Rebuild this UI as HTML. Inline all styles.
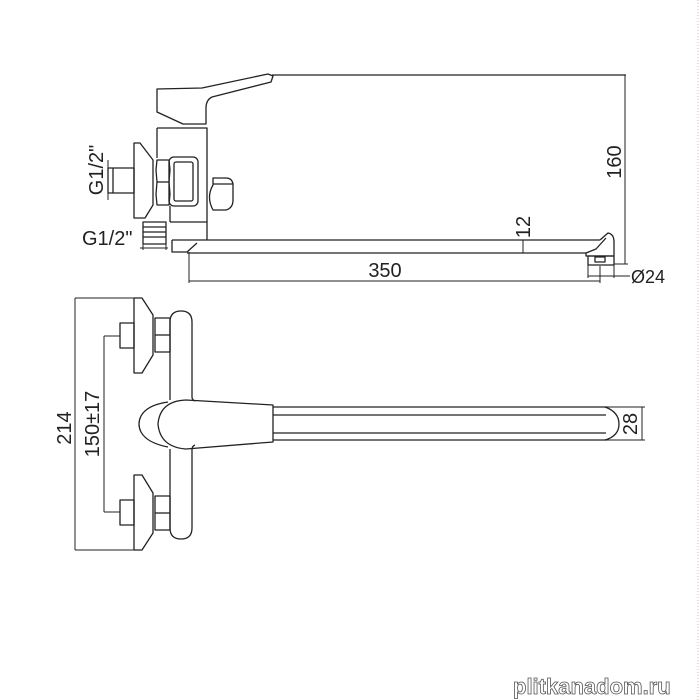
<!DOCTYPE html>
<html><head><meta charset="utf-8"><style>
html,body{margin:0;padding:0;background:#fff}
svg{display:block}
text{font-family:"Liberation Sans","DejaVu Sans",sans-serif;fill:#222}
</style></head><body>
<svg width="700" height="700" viewBox="0 0 700 700" xmlns="http://www.w3.org/2000/svg">
<g fill="none" stroke="#222" stroke-width="1.3" stroke-linejoin="round">
<!-- TOP VIEW -->
<path d="M157,89 L202,88 L268,74 L273,76 L271,82 L212,97 Q206,100 206,108 L206,124 L183,124 L157,112 Z"/>
<line x1="272" y1="75" x2="626" y2="75"/>
<path d="M157,128 L207,128 L207,222"/>
<line x1="157" y1="128" x2="157" y2="158"/>
<path d="M170,222 L207,222 L207,240"/>
<line x1="170" y1="206" x2="170" y2="222"/>
<rect x="169" y="157" width="29" height="49" rx="5"/>
<rect x="174" y="162" width="19" height="39" rx="2"/>
<path d="M157,160 L169,160 L170,170 L169,182 L170,194 L169,205 L157,205 L156,194 L157,182 L156,170 Z"/>
<line x1="157" y1="182" x2="169" y2="182"/>
<path d="M134,143 L140,143 L153,160 L153,205 L145,218 L134,218 Z"/>
<rect x="108" y="168" width="26" height="25"/>
<line x1="113" y1="168" x2="113" y2="193"/>
<rect x="143" y="222" width="23" height="22"/>
<line x1="143" y1="227" x2="166" y2="227"/>
<line x1="143" y1="232" x2="166" y2="232"/>
<line x1="143" y1="237" x2="166" y2="237"/>
<path d="M213,185 Q206,197 213,210 L226,210 Q233,208 233,200 L233,184 Q232,178 226,178 L213,178 Z"/>
<line x1="213" y1="184" x2="233" y2="184"/>
<!-- spout -->
<path d="M172,240 L172,252 L187,252 L197,243"/>
<line x1="172" y1="240" x2="600" y2="240"/>
<line x1="187" y1="253" x2="586" y2="253"/>
<path d="M600,240 L608,233 Q614,234 614,242 L614,256 L586,256 L586,253 L596,249 L606,238"/>
<rect x="588" y="256" width="26" height="9"/>
<rect x="595" y="257" width="10" height="5"/>
<!-- dims -->
<line x1="189" y1="252" x2="189" y2="283" stroke-width="1"/>
<line x1="189" y1="281" x2="600" y2="281" stroke-width="1"/>
<line x1="600" y1="266" x2="600" y2="283" stroke-width="1"/>
<line x1="625" y1="75" x2="625" y2="264" stroke-width="1"/>
<line x1="614" y1="264" x2="628" y2="264" stroke-width="1"/>
<line x1="523" y1="240" x2="523" y2="253" stroke-width="1"/>
<line x1="588" y1="265" x2="588" y2="278" stroke-width="1"/>
<line x1="614" y1="265" x2="614" y2="278" stroke-width="1"/>
<line x1="588" y1="276" x2="630" y2="276" stroke-width="1"/>
<line x1="108" y1="160" x2="108" y2="200" stroke-width="1"/>
<line x1="143" y1="244" x2="143" y2="250" stroke-width="1"/>
<line x1="166" y1="244" x2="166" y2="250" stroke-width="1"/>
<line x1="140" y1="248" x2="168" y2="248" stroke-width="1"/>

<!-- BOTTOM VIEW -->
<line x1="75" y1="298" x2="75" y2="550" stroke-width="1"/>
<line x1="75" y1="298" x2="135" y2="298" stroke-width="1"/>
<line x1="75" y1="550" x2="135" y2="550" stroke-width="1"/>
<line x1="104" y1="336" x2="104" y2="512" stroke-width="1"/>
<line x1="104" y1="336" x2="120" y2="336" stroke-width="1"/>
<line x1="104" y1="512" x2="120" y2="512" stroke-width="1"/>
<path d="M134,298 L142,298 L153,315 L153,355 L142,373 L134,373 Z"/>
<rect x="120" y="323" width="14" height="25"/>
<path d="M155,318 L170,318 L170,352 L155,352 Z"/>
<line x1="155" y1="335" x2="170" y2="335"/>
<path d="M134,475 L142,475 L153,493 L153,533 L142,550 L134,550 Z"/>
<rect x="120" y="500" width="14" height="25"/>
<path d="M155,496 L170,496 L170,530 L155,530 Z"/>
<line x1="155" y1="513" x2="170" y2="513"/>
<path d="M170,400 L170,322 Q170,311 181,311 Q192,311 192,322 L192,397 Q192,400 195,401"/>
<path d="M170,449 L170,528 Q170,539 181,539 Q192,539 192,528 L192,450 Q192,446 195,445"/>
<path d="M168,402 Q147,405 141,416 Q137,424 141,432 Q147,443 168,447"/>
<path d="M186,400 L273,405 L273,442 L186,449 Q160,447 158,424 Q160,401 186,400 Z"/>
<line x1="273" y1="407" x2="607" y2="407"/>
<line x1="273" y1="440" x2="607" y2="440"/>
<line x1="273" y1="415" x2="606" y2="415"/>
<line x1="273" y1="433" x2="606" y2="433"/>
<path d="M605,407 Q619,412 619,424 Q619,436 605,440"/>
<line x1="607" y1="407" x2="645" y2="407" stroke-width="1"/>
<line x1="607" y1="440" x2="645" y2="440" stroke-width="1"/>
<line x1="642" y1="407" x2="642" y2="440" stroke-width="1"/>
</g>
<line x1="698" y1="0" x2="698" y2="700" stroke="#e8b8b8" stroke-width="1" stroke-dasharray="1,2"/>
<g font-size="20">
<text x="385" y="277" text-anchor="middle">350</text>
<text transform="translate(621,162) rotate(-90)" text-anchor="middle">160</text>
<text transform="translate(530,227) rotate(-90)" text-anchor="middle">12</text>
<text x="631" y="283" font-size="18">Ø24</text>
<text transform="translate(103,170) rotate(-90)" text-anchor="middle">G1/2"</text>
<text x="82" y="245">G1/2"</text>
<text transform="translate(71,428) rotate(-90)" text-anchor="middle">214</text>
<text transform="translate(99,424) rotate(-90)" text-anchor="middle">150±17</text>
<text transform="translate(637,424) rotate(-90)" text-anchor="middle">28</text>
</g>
<text x="513" y="694" font-size="22" font-weight="bold" fill="#fff" stroke="#555" stroke-width="0.8" style="fill:#fff">plitkanadom.ru</text>
</svg>
</body></html>
